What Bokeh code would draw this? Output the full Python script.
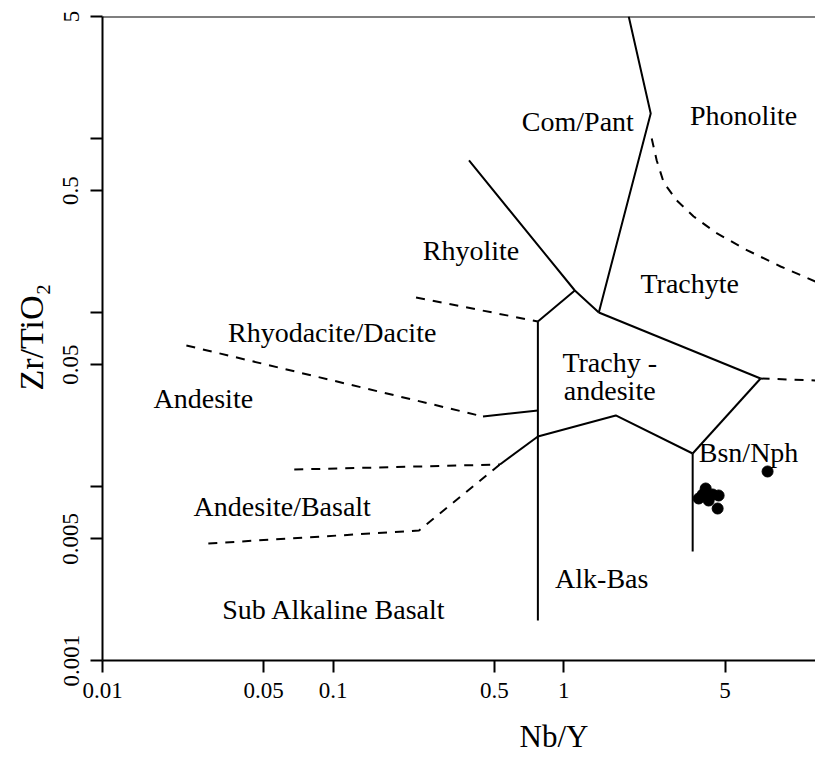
from bokeh.plotting import figure
from bokeh.models import FixedTicker, Span, Label, Title
from bokeh.embed import file_html
from bokeh.resources import INLINE

# ---- axis ticks ----
x_ticks = [0.01, 0.05, 0.1, 0.5, 1, 5]
x_tick_labels = ["0.01", "0.05", "0.1", "0.5", "1", "5"]
y_ticks = [0.001, 0.005, 0.01, 0.05, 0.1, 0.5, 1, 5]
y_tick_labels = ["0.001", "0.005", "", "0.05", "", "0.5", "", "5"]

# ---- solid field boundaries (Nb/Y, Zr/TiO2) ----
top_x = [1.911, 2.380, 1.418]
top_y = [5.0, 1.387, 0.0997]
rhy_x = [0.388, 1.116, 1.418]
rhy_y = [0.7447, 0.1334, 0.0997]
rhy_ta_x = [1.116, 0.7717]
rhy_ta_y = [0.1334, 0.0886]
alk_div_x = [0.7717, 0.7717]
alk_div_y = [0.0886, 0.001698]
tr_ta_x = [1.418, 7.126]
tr_ta_y = [0.0997, 0.04166]
ta_bsn_x = [7.126, 3.618]
ta_bsn_y = [0.04166, 0.01545]
ab_bsn_x = [3.618, 3.618]
ab_bsn_y = [0.01545, 0.004227]
ta_ab_x = [0.7717, 1.679, 3.618]
ta_ab_y = [0.01934, 0.02555, 0.01545]
andbas_link_x = [0.7717, 0.5284]
andbas_link_y = [0.01934, 0.01336]
and_link_x = [0.7717, 0.4461]
and_link_y = [0.02729, 0.02521]

# ---- dashed field boundaries ----
rd_rhy_x = [0.2287, 0.7717]
rd_rhy_y = [0.1216, 0.0886]
and_rd_x = [0.02310, 0.4461]
and_rd_y = [0.06449, 0.02521]
ab_and_x = [0.06781, 0.5284]
ab_and_y = [0.01250, 0.01336]
sab_ab_x = [0.02876, 0.2357, 0.5284]
sab_ab_y = [0.004699, 0.005580, 0.01336]
ph_tr_x = [2.404, 2.527, 2.710, 3.085, 3.654, 4.550, 6.135, 8.699, 12.33]
ph_tr_y = [0.996, 0.7447, 0.5566, 0.4387, 0.3551, 0.2873, 0.2295, 0.1833, 0.1502]
bsn_r_x = [7.126, 12.33]
bsn_r_y = [0.04166, 0.04057]

# ---- samples ----
nb_y = [3.842, 4.120, 4.244, 4.688, 4.642, 4.416, 3.998, 7.642]
zr_tio2 = [0.008520, 0.009725, 0.008298, 0.008866, 0.007464, 0.008984, 0.008984, 0.01218]

# ---- field names ----
field_names = ["Com/Pant", "Phonolite", "Rhyolite", "Trachyte", "Rhyodacite/Dacite",
               "Trachy -", "andesite", "Andesite", "Bsn/Nph", "Andesite/Basalt",
               "Alk-Bas", "Sub Alkaline Basalt"]
field_x = [1.150, 6.015, 0.3957, 3.512, 0.09901, 1.581, 1.581, 0.02736, 6.322, 0.06015, 1.460, 0.1010]
field_y = [1.247, 1.350, 0.2265, 0.1463, 0.07656, 0.05147, 0.03556, 0.03198, 0.01565, 0.00766, 0.002958, 0.001963]

x_title = "Nb/Y"
y_title = "Zr/TiO\u2082"

FONT = "Liberation Serif"

p = figure(frame_width=713, frame_height=644,
           x_axis_type="log", y_axis_type="log",
           x_range=(0.01, 12.33), y_range=(0.001, 5),
           output_backend="svg", toolbar_location=None,
           min_border_left=102, min_border_right=0, min_border_top=16, min_border_bottom=98,
           background_fill_color="white", border_fill_color="white")
p.outline_line_color = None
p.grid.visible = False

for ax, ticks, labels in ((p.xaxis, x_ticks, x_tick_labels), (p.yaxis, y_ticks, y_tick_labels)):
    ax.ticker = FixedTicker(ticks=ticks)
    ax.major_label_overrides = dict(zip(ticks, labels))
    ax.axis_line_width = 2
    ax.axis_line_color = "black"
    ax.major_tick_line_width = 2
    ax.major_tick_line_color = "black"
    ax.major_tick_out = 12
    ax.major_tick_in = 0
    ax.minor_tick_line_color = None
    ax.major_label_text_font = FONT
    ax.major_label_text_font_size = "23px"
    ax.major_label_text_color = "black"
    ax.axis_label = None

p.xaxis.major_label_standoff = 10
p.yaxis.major_label_standoff = 12
p.yaxis.major_label_orientation = "vertical"

p.add_layout(Span(location=5, dimension="width", line_color="black", line_width=2))

solid = [(top_x, top_y), (rhy_x, rhy_y), (rhy_ta_x, rhy_ta_y), (alk_div_x, alk_div_y),
         (tr_ta_x, tr_ta_y), (ta_bsn_x, ta_bsn_y), (ab_bsn_x, ab_bsn_y), (ta_ab_x, ta_ab_y),
         (andbas_link_x, andbas_link_y), (and_link_x, and_link_y)]
for xs, ys in solid:
    p.line(xs, ys, line_color="black", line_width=2)

dashed = [(rd_rhy_x, rd_rhy_y), (and_rd_x, and_rd_y), (ab_and_x, ab_and_y),
          (sab_ab_x, sab_ab_y), (ph_tr_x, ph_tr_y), (bsn_r_x, bsn_r_y)]
for xs, ys in dashed:
    p.line(xs, ys, line_color="black", line_width=2, line_dash="9 8")

p.scatter(nb_y, zr_tio2, size=11, fill_color="black", line_color="black")

for name, fx, fy in zip(field_names, field_x, field_y):
    p.add_layout(Label(x=fx, y=fy, text=name, text_align="center", text_baseline="middle",
                       text_font=FONT, text_font_size="28px", text_color="black"))

# axis titles as side-panel titles
p.add_layout(Title(text=x_title, align="left", offset=417, standoff=33,
                   text_font=FONT, text_font_size="31px", text_font_style="normal",
                   text_color="black"), "below")
p.add_layout(Title(text=y_title, align="left", offset=270, standoff=21,
                   text_font=FONT, text_font_size="34px", text_font_style="normal",
                   text_color="black"), "left")

open("out.html", "w").write(file_html(p, INLINE))
